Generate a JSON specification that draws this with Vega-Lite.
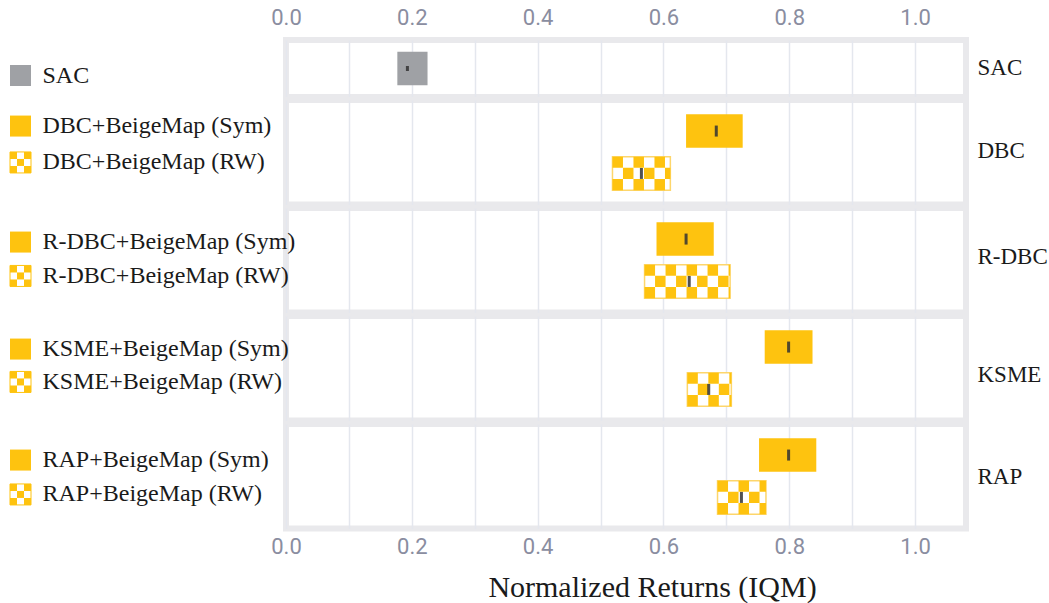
{
  "$schema": "https://vega.github.io/schema/vega-lite/v6.json",
  "background": "white",
  "padding": {"left": 6, "top": 3, "right": 0, "bottom": 0},
  "data": {"values": [
    {"family": "SAC", "method": "SAC", "variant": "base", "lo": 0.177, "hi": 0.225, "med": 0.193},
    {"family": "DBC", "method": "DBC+BeigeMap (Sym)", "variant": "Sym", "lo": 0.636, "hi": 0.726, "med": 0.684},
    {"family": "DBC", "method": "DBC+BeigeMap (RW)", "variant": "RW", "lo": 0.519, "hi": 0.611, "med": 0.565},
    {"family": "R-DBC", "method": "R-DBC+BeigeMap (Sym)", "variant": "Sym", "lo": 0.589, "hi": 0.680, "med": 0.636},
    {"family": "R-DBC", "method": "R-DBC+BeigeMap (RW)", "variant": "RW", "lo": 0.570, "hi": 0.706, "med": 0.641},
    {"family": "KSME", "method": "KSME+BeigeMap (Sym)", "variant": "Sym", "lo": 0.761, "hi": 0.837, "med": 0.799},
    {"family": "KSME", "method": "KSME+BeigeMap (RW)", "variant": "RW", "lo": 0.638, "hi": 0.708, "med": 0.672},
    {"family": "RAP", "method": "RAP+BeigeMap (Sym)", "variant": "Sym", "lo": 0.752, "hi": 0.843, "med": 0.799},
    {"family": "RAP", "method": "RAP+BeigeMap (RW)", "variant": "RW", "lo": 0.686, "hi": 0.763, "med": 0.724}
  ]},
  "spacing": -4,
  "vconcat": [
    {"spacing": 255, "bounds": "flush", "hconcat": [
      {"width": 21, "height": 57, "view": {"stroke": null, "fill": null},
       "transform": [{"filter": "datum.family === 'SAC'"}],
       "mark": {"type": "square", "size": 441, "opacity": 1, "yOffset": 7},
       "encoding": {
         "y": {"field": "method", "type": "nominal", "scale": {"domain": ["SAC"], "paddingInner": 0, "paddingOuter": 0.233}, "axis": null},
         "color": {"field": "variant", "type": "nominal", "scale": {"domain": ["base", "Sym", "RW"], "range": ["#9fa1a5", "#fec30f", "#ffffff"]}, "legend": null}
       }},
      {"width": 680, "height": 57,
       "transform": [{"filter": "datum.family === 'SAC'"}],
       "layer": [
        {"mark": {"type": "bar", "height": 33.5},
         "encoding": {
           "x": {"field": "lo", "type": "quantitative", "scale": {"domain": [0, 1.081], "nice": false, "zero": false},
                 "axis": {"orient": "top", "values": [0, 0.1, 0.2, 0.3, 0.4, 0.5, 0.6, 0.7, 0.8, 0.9, 1.0], "labelExpr": "round(datum.value*10) % 2 == 0 ? format(datum.value, '.1f') : ''", "labelFont": "Roboto", "labelFontSize": 22, "labelColor": "#8a8da0", "labelPadding": 11, "labelFlush": false, "ticks": false, "domain": false, "grid": true, "gridColor": "#e4e7ee", "gridWidth": 1.5, "title": null}},
           "x2": {"field": "hi"},
           "y": {"field": "method", "type": "nominal", "scale": {"domain": ["SAC"], "paddingInner": 0, "paddingOuter": 0.233},
                 "axis": {"orient": "left", "labelAlign": "left", "labelPadding": 244, "labelFont": "Liberation Serif", "labelFontSize": 24, "labelColor": "#1a1a1a", "labelLimit": 0, "labelOffset": 7, "ticks": false, "tickSize": 0, "domain": false, "grid": false, "title": null}},
           "fill": {"field": "variant", "type": "nominal", "scale": {"domain": ["base", "Sym", "RW"], "range": ["#9fa1a5", "#fec30f", "#ffffff"]}, "legend": null}
         }},
        {"mark": {"type": "tick", "thickness": 3, "size": 5, "color": "#333333", "opacity": 0.85},
         "encoding": {
           "x": {"field": "med", "type": "quantitative"},
           "y": {"field": "method", "type": "nominal", "scale": {"domain": ["SAC"], "paddingInner": 0, "paddingOuter": 0.233}, "axis": null}
         }},
        {"mark": {"type": "point", "opacity": 0},
         "encoding": {
           "y": {"field": "family", "type": "nominal", "axis": {"orient": "right", "labelAlign": "left", "labelPadding": 11, "labelOffset": -1, "labelFont": "Liberation Serif", "labelFontSize": 23, "labelColor": "#1a1a1a", "labelLimit": 0, "ticks": false, "tickSize": 0, "domain": false, "grid": false, "title": null}}
         }}
       ],
       "resolve": {"scale": {"y": "independent"}}
      }
    ]},
    {"spacing": 255, "bounds": "flush", "hconcat": [
      {"width": 21, "height": 104.5, "view": {"stroke": null, "fill": null},
       "transform": [{"filter": "datum.family === 'DBC'"}],
       "layer": [
         {"transform": [{"filter": "datum.variant === 'Sym'"}],
          "mark": {"type": "square", "size": 441, "opacity": 1, "color": "#fec30f", "yOffset": -5},
          "encoding": {"y": {"field": "method", "type": "nominal", "scale": {"domain": ["DBC+BeigeMap (Sym)", "DBC+BeigeMap (RW)"], "paddingInner": 0, "paddingOuter": 0.233}, "axis": null}}},
         {"transform": [{"filter": "datum.variant === 'RW'"}],
          "mark": {"type": "square", "size": 441, "opacity": 1, "filled": true, "color": "#ffffff", "stroke": "#fec30f", "strokeWidth": 1, "yOffset": -11},
          "encoding": {"y": {"field": "method", "type": "nominal"}}},
         {"transform": [{"filter": "datum.variant === 'RW'"}],
          "mark": {"type": "rule", "strokeWidth": 7, "strokeDash": [7, 7], "strokeCap": "butt", "color": "#fec30f", "yOffset": -18},
          "encoding": {"y": {"field": "method", "type": "nominal"}}},
         {"transform": [{"filter": "datum.variant === 'RW'"}],
          "mark": {"type": "rule", "strokeWidth": 7, "strokeDash": [7, 7], "strokeDashOffset": 7, "strokeCap": "butt", "color": "#fec30f", "yOffset": -11},
          "encoding": {"y": {"field": "method", "type": "nominal"}}},
         {"transform": [{"filter": "datum.variant === 'RW'"}],
          "mark": {"type": "rule", "strokeWidth": 7, "strokeDash": [7, 7], "strokeCap": "butt", "color": "#fec30f", "yOffset": -4},
          "encoding": {"y": {"field": "method", "type": "nominal"}}}
       ]},
      {"width": 680, "height": 104.5,
       "transform": [{"filter": "datum.family === 'DBC'"}],
       "layer": [
        {"mark": {"type": "bar", "height": 33.5, "stroke": "#fdd66c"},
         "encoding": {
           "x": {"field": "lo", "type": "quantitative", "scale": {"domain": [0, 1.081], "nice": false, "zero": false},
                 "axis": {"values": [0, 0.1, 0.2, 0.3, 0.4, 0.5, 0.6, 0.7, 0.8, 0.9, 1.0], "labels": false, "ticks": false, "domain": false, "grid": true, "gridColor": "#e4e7ee", "gridWidth": 1.5, "title": null}},
           "x2": {"field": "hi"},
           "y": {"field": "method", "type": "nominal", "scale": {"domain": ["DBC+BeigeMap (Sym)", "DBC+BeigeMap (RW)"], "paddingInner": 0, "paddingOuter": 0.233},
                 "axis": {"orient": "left", "labelAlign": "left", "labelPadding": 244, "labelFont": "Liberation Serif", "labelFontSize": 24, "labelColor": "#1a1a1a", "labelLimit": 0, "labelOffset": {"condition": {"test": "indexof(datum.value,'RW') >= 0", "value": -11}, "value": -5}, "ticks": false, "tickSize": 0, "domain": false, "grid": false, "title": null}},
           "fill": {"field": "variant", "type": "nominal", "scale": {"domain": ["base", "Sym", "RW"], "range": ["#9fa1a5", "#fec30f", "#ffffff"]}, "legend": null},
           "strokeWidth": {"condition": {"test": "datum.variant === 'RW'", "value": 1.5}, "value": 0}
         }},
        {"transform": [{"filter": "datum.variant === 'RW'"}],
         "mark": {"type": "rule", "strokeWidth": 11.17, "strokeDash": [10.5, 10.5], "strokeCap": "butt", "yOffset": -11.17, "color": "#fec30f"},
         "encoding": {"x": {"field": "lo", "type": "quantitative"}, "x2": {"field": "hi"}, "y": {"field": "method", "type": "nominal", "scale": {"domain": ["DBC+BeigeMap (Sym)", "DBC+BeigeMap (RW)"], "paddingInner": 0, "paddingOuter": 0.233}, "axis": null}}},
        {"transform": [{"filter": "datum.variant === 'RW'"}],
         "mark": {"type": "rule", "strokeWidth": 11.17, "strokeDash": [10.5, 10.5], "strokeDashOffset": 10.5, "strokeCap": "butt", "yOffset": 0, "color": "#fec30f"},
         "encoding": {"x": {"field": "lo", "type": "quantitative"}, "x2": {"field": "hi"}, "y": {"field": "method", "type": "nominal", "scale": {"domain": ["DBC+BeigeMap (Sym)", "DBC+BeigeMap (RW)"], "paddingInner": 0, "paddingOuter": 0.233}, "axis": null}}},
        {"transform": [{"filter": "datum.variant === 'RW'"}],
         "mark": {"type": "rule", "strokeWidth": 11.17, "strokeDash": [10.5, 10.5], "strokeCap": "butt", "yOffset": 11.17, "color": "#fec30f"},
         "encoding": {"x": {"field": "lo", "type": "quantitative"}, "x2": {"field": "hi"}, "y": {"field": "method", "type": "nominal", "scale": {"domain": ["DBC+BeigeMap (Sym)", "DBC+BeigeMap (RW)"], "paddingInner": 0, "paddingOuter": 0.233}, "axis": null}}},
        {"mark": {"type": "tick", "thickness": 3, "size": 11, "color": "#333333", "opacity": 0.85},
         "encoding": {
           "x": {"field": "med", "type": "quantitative"},
           "y": {"field": "method", "type": "nominal", "scale": {"domain": ["DBC+BeigeMap (Sym)", "DBC+BeigeMap (RW)"], "paddingInner": 0, "paddingOuter": 0.233}, "axis": null}
         }},
        {"mark": {"type": "point", "opacity": 0},
         "encoding": {
           "y": {"field": "family", "type": "nominal", "axis": {"orient": "right", "labelAlign": "left", "labelPadding": 11, "labelOffset": -2, "labelFont": "Liberation Serif", "labelFontSize": 23, "labelColor": "#1a1a1a", "labelLimit": 0, "ticks": false, "tickSize": 0, "domain": false, "grid": false, "title": null}}
         }}
       ],
       "resolve": {"scale": {"y": "independent"}}
      }
    ]},
    {"spacing": 255, "bounds": "flush", "hconcat": [
      {"width": 21, "height": 104.5, "view": {"stroke": null, "fill": null},
       "transform": [{"filter": "datum.family === 'R-DBC'"}],
       "layer": [
         {"transform": [{"filter": "datum.variant === 'Sym'"}],
          "mark": {"type": "square", "size": 441, "opacity": 1, "color": "#fec30f", "yOffset": 3},
          "encoding": {"y": {"field": "method", "type": "nominal", "scale": {"domain": ["R-DBC+BeigeMap (Sym)", "R-DBC+BeigeMap (RW)"], "paddingInner": 0, "paddingOuter": 0.233}, "axis": null}}},
         {"transform": [{"filter": "datum.variant === 'RW'"}],
          "mark": {"type": "square", "size": 441, "opacity": 1, "filled": true, "color": "#ffffff", "stroke": "#fec30f", "strokeWidth": 1, "yOffset": -5.5},
          "encoding": {"y": {"field": "method", "type": "nominal"}}},
         {"transform": [{"filter": "datum.variant === 'RW'"}],
          "mark": {"type": "rule", "strokeWidth": 7, "strokeDash": [7, 7], "strokeCap": "butt", "color": "#fec30f", "yOffset": -12.5},
          "encoding": {"y": {"field": "method", "type": "nominal"}}},
         {"transform": [{"filter": "datum.variant === 'RW'"}],
          "mark": {"type": "rule", "strokeWidth": 7, "strokeDash": [7, 7], "strokeDashOffset": 7, "strokeCap": "butt", "color": "#fec30f", "yOffset": -5.5},
          "encoding": {"y": {"field": "method", "type": "nominal"}}},
         {"transform": [{"filter": "datum.variant === 'RW'"}],
          "mark": {"type": "rule", "strokeWidth": 7, "strokeDash": [7, 7], "strokeCap": "butt", "color": "#fec30f", "yOffset": 1.5},
          "encoding": {"y": {"field": "method", "type": "nominal"}}}
       ]},
      {"width": 680, "height": 104.5,
       "transform": [{"filter": "datum.family === 'R-DBC'"}],
       "layer": [
        {"mark": {"type": "bar", "height": 33.5, "stroke": "#fdd66c"},
         "encoding": {
           "x": {"field": "lo", "type": "quantitative", "scale": {"domain": [0, 1.081], "nice": false, "zero": false},
                 "axis": {"values": [0, 0.1, 0.2, 0.3, 0.4, 0.5, 0.6, 0.7, 0.8, 0.9, 1.0], "labels": false, "ticks": false, "domain": false, "grid": true, "gridColor": "#e4e7ee", "gridWidth": 1.5, "title": null}},
           "x2": {"field": "hi"},
           "y": {"field": "method", "type": "nominal", "scale": {"domain": ["R-DBC+BeigeMap (Sym)", "R-DBC+BeigeMap (RW)"], "paddingInner": 0, "paddingOuter": 0.233},
                 "axis": {"orient": "left", "labelAlign": "left", "labelPadding": 244, "labelFont": "Liberation Serif", "labelFontSize": 24, "labelColor": "#1a1a1a", "labelLimit": 0, "labelOffset": {"condition": {"test": "indexof(datum.value,'RW') >= 0", "value": -5.5}, "value": 3}, "ticks": false, "tickSize": 0, "domain": false, "grid": false, "title": null}},
           "fill": {"field": "variant", "type": "nominal", "scale": {"domain": ["base", "Sym", "RW"], "range": ["#9fa1a5", "#fec30f", "#ffffff"]}, "legend": null},
           "strokeWidth": {"condition": {"test": "datum.variant === 'RW'", "value": 1.5}, "value": 0}
         }},
        {"transform": [{"filter": "datum.variant === 'RW'"}],
         "mark": {"type": "rule", "strokeWidth": 11.17, "strokeDash": [10.5, 10.5], "strokeCap": "butt", "yOffset": -11.17, "color": "#fec30f"},
         "encoding": {"x": {"field": "lo", "type": "quantitative"}, "x2": {"field": "hi"}, "y": {"field": "method", "type": "nominal", "scale": {"domain": ["R-DBC+BeigeMap (Sym)", "R-DBC+BeigeMap (RW)"], "paddingInner": 0, "paddingOuter": 0.233}, "axis": null}}},
        {"transform": [{"filter": "datum.variant === 'RW'"}],
         "mark": {"type": "rule", "strokeWidth": 11.17, "strokeDash": [10.5, 10.5], "strokeDashOffset": 10.5, "strokeCap": "butt", "yOffset": 0, "color": "#fec30f"},
         "encoding": {"x": {"field": "lo", "type": "quantitative"}, "x2": {"field": "hi"}, "y": {"field": "method", "type": "nominal", "scale": {"domain": ["R-DBC+BeigeMap (Sym)", "R-DBC+BeigeMap (RW)"], "paddingInner": 0, "paddingOuter": 0.233}, "axis": null}}},
        {"transform": [{"filter": "datum.variant === 'RW'"}],
         "mark": {"type": "rule", "strokeWidth": 11.17, "strokeDash": [10.5, 10.5], "strokeCap": "butt", "yOffset": 11.17, "color": "#fec30f"},
         "encoding": {"x": {"field": "lo", "type": "quantitative"}, "x2": {"field": "hi"}, "y": {"field": "method", "type": "nominal", "scale": {"domain": ["R-DBC+BeigeMap (Sym)", "R-DBC+BeigeMap (RW)"], "paddingInner": 0, "paddingOuter": 0.233}, "axis": null}}},
        {"mark": {"type": "tick", "thickness": 3, "size": 11, "color": "#333333", "opacity": 0.85},
         "encoding": {
           "x": {"field": "med", "type": "quantitative"},
           "y": {"field": "method", "type": "nominal", "scale": {"domain": ["R-DBC+BeigeMap (Sym)", "R-DBC+BeigeMap (RW)"], "paddingInner": 0, "paddingOuter": 0.233}, "axis": null}
         }},
        {"mark": {"type": "point", "opacity": 0},
         "encoding": {
           "y": {"field": "family", "type": "nominal", "axis": {"orient": "right", "labelAlign": "left", "labelPadding": 11, "labelOffset": -4, "labelFont": "Liberation Serif", "labelFontSize": 23, "labelColor": "#1a1a1a", "labelLimit": 0, "ticks": false, "tickSize": 0, "domain": false, "grid": false, "title": null}}
         }}
       ],
       "resolve": {"scale": {"y": "independent"}}
      }
    ]},
    {"spacing": 255, "bounds": "flush", "hconcat": [
      {"width": 21, "height": 104.5, "view": {"stroke": null, "fill": null},
       "transform": [{"filter": "datum.family === 'KSME'"}],
       "layer": [
         {"transform": [{"filter": "datum.variant === 'Sym'"}],
          "mark": {"type": "square", "size": 441, "opacity": 1, "color": "#fec30f", "yOffset": 2},
          "encoding": {"y": {"field": "method", "type": "nominal", "scale": {"domain": ["KSME+BeigeMap (Sym)", "KSME+BeigeMap (RW)"], "paddingInner": 0, "paddingOuter": 0.233}, "axis": null}}},
         {"transform": [{"filter": "datum.variant === 'RW'"}],
          "mark": {"type": "square", "size": 441, "opacity": 1, "filled": true, "color": "#ffffff", "stroke": "#fec30f", "strokeWidth": 1, "yOffset": -7.5},
          "encoding": {"y": {"field": "method", "type": "nominal"}}},
         {"transform": [{"filter": "datum.variant === 'RW'"}],
          "mark": {"type": "rule", "strokeWidth": 7, "strokeDash": [7, 7], "strokeCap": "butt", "color": "#fec30f", "yOffset": -14.5},
          "encoding": {"y": {"field": "method", "type": "nominal"}}},
         {"transform": [{"filter": "datum.variant === 'RW'"}],
          "mark": {"type": "rule", "strokeWidth": 7, "strokeDash": [7, 7], "strokeDashOffset": 7, "strokeCap": "butt", "color": "#fec30f", "yOffset": -7.5},
          "encoding": {"y": {"field": "method", "type": "nominal"}}},
         {"transform": [{"filter": "datum.variant === 'RW'"}],
          "mark": {"type": "rule", "strokeWidth": 7, "strokeDash": [7, 7], "strokeCap": "butt", "color": "#fec30f", "yOffset": -0.5},
          "encoding": {"y": {"field": "method", "type": "nominal"}}}
       ]},
      {"width": 680, "height": 104.5,
       "transform": [{"filter": "datum.family === 'KSME'"}],
       "layer": [
        {"mark": {"type": "bar", "height": 33.5, "stroke": "#fdd66c"},
         "encoding": {
           "x": {"field": "lo", "type": "quantitative", "scale": {"domain": [0, 1.081], "nice": false, "zero": false},
                 "axis": {"values": [0, 0.1, 0.2, 0.3, 0.4, 0.5, 0.6, 0.7, 0.8, 0.9, 1.0], "labels": false, "ticks": false, "domain": false, "grid": true, "gridColor": "#e4e7ee", "gridWidth": 1.5, "title": null}},
           "x2": {"field": "hi"},
           "y": {"field": "method", "type": "nominal", "scale": {"domain": ["KSME+BeigeMap (Sym)", "KSME+BeigeMap (RW)"], "paddingInner": 0, "paddingOuter": 0.233},
                 "axis": {"orient": "left", "labelAlign": "left", "labelPadding": 244, "labelFont": "Liberation Serif", "labelFontSize": 24, "labelColor": "#1a1a1a", "labelLimit": 0, "labelOffset": {"condition": {"test": "indexof(datum.value,'RW') >= 0", "value": -7.5}, "value": 2}, "ticks": false, "tickSize": 0, "domain": false, "grid": false, "title": null}},
           "fill": {"field": "variant", "type": "nominal", "scale": {"domain": ["base", "Sym", "RW"], "range": ["#9fa1a5", "#fec30f", "#ffffff"]}, "legend": null},
           "strokeWidth": {"condition": {"test": "datum.variant === 'RW'", "value": 1.5}, "value": 0}
         }},
        {"transform": [{"filter": "datum.variant === 'RW'"}],
         "mark": {"type": "rule", "strokeWidth": 11.17, "strokeDash": [10.5, 10.5], "strokeCap": "butt", "yOffset": -11.17, "color": "#fec30f"},
         "encoding": {"x": {"field": "lo", "type": "quantitative"}, "x2": {"field": "hi"}, "y": {"field": "method", "type": "nominal", "scale": {"domain": ["KSME+BeigeMap (Sym)", "KSME+BeigeMap (RW)"], "paddingInner": 0, "paddingOuter": 0.233}, "axis": null}}},
        {"transform": [{"filter": "datum.variant === 'RW'"}],
         "mark": {"type": "rule", "strokeWidth": 11.17, "strokeDash": [10.5, 10.5], "strokeDashOffset": 10.5, "strokeCap": "butt", "yOffset": 0, "color": "#fec30f"},
         "encoding": {"x": {"field": "lo", "type": "quantitative"}, "x2": {"field": "hi"}, "y": {"field": "method", "type": "nominal", "scale": {"domain": ["KSME+BeigeMap (Sym)", "KSME+BeigeMap (RW)"], "paddingInner": 0, "paddingOuter": 0.233}, "axis": null}}},
        {"transform": [{"filter": "datum.variant === 'RW'"}],
         "mark": {"type": "rule", "strokeWidth": 11.17, "strokeDash": [10.5, 10.5], "strokeCap": "butt", "yOffset": 11.17, "color": "#fec30f"},
         "encoding": {"x": {"field": "lo", "type": "quantitative"}, "x2": {"field": "hi"}, "y": {"field": "method", "type": "nominal", "scale": {"domain": ["KSME+BeigeMap (Sym)", "KSME+BeigeMap (RW)"], "paddingInner": 0, "paddingOuter": 0.233}, "axis": null}}},
        {"mark": {"type": "tick", "thickness": 3, "size": 11, "color": "#333333", "opacity": 0.85},
         "encoding": {
           "x": {"field": "med", "type": "quantitative"},
           "y": {"field": "method", "type": "nominal", "scale": {"domain": ["KSME+BeigeMap (Sym)", "KSME+BeigeMap (RW)"], "paddingInner": 0, "paddingOuter": 0.233}, "axis": null}
         }},
        {"mark": {"type": "point", "opacity": 0},
         "encoding": {
           "y": {"field": "family", "type": "nominal", "axis": {"orient": "right", "labelAlign": "left", "labelPadding": 11, "labelOffset": 6, "labelFont": "Liberation Serif", "labelFontSize": 23, "labelColor": "#1a1a1a", "labelLimit": 0, "ticks": false, "tickSize": 0, "domain": false, "grid": false, "title": null}}
         }}
       ],
       "resolve": {"scale": {"y": "independent"}}
      }
    ]},
    {"spacing": 255, "bounds": "flush", "hconcat": [
      {"width": 21, "height": 104.5, "view": {"stroke": null, "fill": null},
       "transform": [{"filter": "datum.family === 'RAP'"}],
       "layer": [
         {"transform": [{"filter": "datum.variant === 'Sym'"}],
          "mark": {"type": "square", "size": 441, "opacity": 1, "color": "#fec30f", "yOffset": 5},
          "encoding": {"y": {"field": "method", "type": "nominal", "scale": {"domain": ["RAP+BeigeMap (Sym)", "RAP+BeigeMap (RW)"], "paddingInner": 0, "paddingOuter": 0.233}, "axis": null}}},
         {"transform": [{"filter": "datum.variant === 'RW'"}],
          "mark": {"type": "square", "size": 441, "opacity": 1, "filled": true, "color": "#ffffff", "stroke": "#fec30f", "strokeWidth": 1, "yOffset": -3},
          "encoding": {"y": {"field": "method", "type": "nominal"}}},
         {"transform": [{"filter": "datum.variant === 'RW'"}],
          "mark": {"type": "rule", "strokeWidth": 7, "strokeDash": [7, 7], "strokeCap": "butt", "color": "#fec30f", "yOffset": -10},
          "encoding": {"y": {"field": "method", "type": "nominal"}}},
         {"transform": [{"filter": "datum.variant === 'RW'"}],
          "mark": {"type": "rule", "strokeWidth": 7, "strokeDash": [7, 7], "strokeDashOffset": 7, "strokeCap": "butt", "color": "#fec30f", "yOffset": -3},
          "encoding": {"y": {"field": "method", "type": "nominal"}}},
         {"transform": [{"filter": "datum.variant === 'RW'"}],
          "mark": {"type": "rule", "strokeWidth": 7, "strokeDash": [7, 7], "strokeCap": "butt", "color": "#fec30f", "yOffset": 4},
          "encoding": {"y": {"field": "method", "type": "nominal"}}}
       ]},
      {"width": 680, "height": 104.5,
       "transform": [{"filter": "datum.family === 'RAP'"}],
       "layer": [
        {"mark": {"type": "bar", "height": 33.5, "stroke": "#fdd66c"},
         "encoding": {
           "x": {"field": "lo", "type": "quantitative", "scale": {"domain": [0, 1.081], "nice": false, "zero": false},
                 "axis": {"orient": "bottom", "values": [0, 0.1, 0.2, 0.3, 0.4, 0.5, 0.6, 0.7, 0.8, 0.9, 1.0], "labelExpr": "round(datum.value*10) % 2 == 0 ? format(datum.value, '.1f') : ''", "labelFont": "Roboto", "labelFontSize": 22, "labelColor": "#8a8da0", "labelPadding": 8, "labelFlush": false, "ticks": false, "domain": false, "grid": true, "gridColor": "#e4e7ee", "gridWidth": 1.5,
                          "title": "Normalized Returns (IQM)", "titleFont": "Liberation Serif", "titleFontSize": 30, "titleFontWeight": "normal", "titleColor": "#1a1a1a", "titlePadding": 15, "titleX": 366}},
           "x2": {"field": "hi"},
           "y": {"field": "method", "type": "nominal", "scale": {"domain": ["RAP+BeigeMap (Sym)", "RAP+BeigeMap (RW)"], "paddingInner": 0, "paddingOuter": 0.233},
                 "axis": {"orient": "left", "labelAlign": "left", "labelPadding": 244, "labelFont": "Liberation Serif", "labelFontSize": 24, "labelColor": "#1a1a1a", "labelLimit": 0, "labelOffset": {"condition": {"test": "indexof(datum.value,'RW') >= 0", "value": -3}, "value": 5}, "ticks": false, "tickSize": 0, "domain": false, "grid": false, "title": null}},
           "fill": {"field": "variant", "type": "nominal", "scale": {"domain": ["base", "Sym", "RW"], "range": ["#9fa1a5", "#fec30f", "#ffffff"]}, "legend": null},
           "strokeWidth": {"condition": {"test": "datum.variant === 'RW'", "value": 1.5}, "value": 0}
         }},
        {"transform": [{"filter": "datum.variant === 'RW'"}],
         "mark": {"type": "rule", "strokeWidth": 11.17, "strokeDash": [10.5, 10.5], "strokeCap": "butt", "yOffset": -11.17, "color": "#fec30f"},
         "encoding": {"x": {"field": "lo", "type": "quantitative"}, "x2": {"field": "hi"}, "y": {"field": "method", "type": "nominal", "scale": {"domain": ["RAP+BeigeMap (Sym)", "RAP+BeigeMap (RW)"], "paddingInner": 0, "paddingOuter": 0.233}, "axis": null}}},
        {"transform": [{"filter": "datum.variant === 'RW'"}],
         "mark": {"type": "rule", "strokeWidth": 11.17, "strokeDash": [10.5, 10.5], "strokeDashOffset": 10.5, "strokeCap": "butt", "yOffset": 0, "color": "#fec30f"},
         "encoding": {"x": {"field": "lo", "type": "quantitative"}, "x2": {"field": "hi"}, "y": {"field": "method", "type": "nominal", "scale": {"domain": ["RAP+BeigeMap (Sym)", "RAP+BeigeMap (RW)"], "paddingInner": 0, "paddingOuter": 0.233}, "axis": null}}},
        {"transform": [{"filter": "datum.variant === 'RW'"}],
         "mark": {"type": "rule", "strokeWidth": 11.17, "strokeDash": [10.5, 10.5], "strokeCap": "butt", "yOffset": 11.17, "color": "#fec30f"},
         "encoding": {"x": {"field": "lo", "type": "quantitative"}, "x2": {"field": "hi"}, "y": {"field": "method", "type": "nominal", "scale": {"domain": ["RAP+BeigeMap (Sym)", "RAP+BeigeMap (RW)"], "paddingInner": 0, "paddingOuter": 0.233}, "axis": null}}},
        {"mark": {"type": "tick", "thickness": 3, "size": 11, "color": "#333333", "opacity": 0.85},
         "encoding": {
           "x": {"field": "med", "type": "quantitative"},
           "y": {"field": "method", "type": "nominal", "scale": {"domain": ["RAP+BeigeMap (Sym)", "RAP+BeigeMap (RW)"], "paddingInner": 0, "paddingOuter": 0.233}, "axis": null}
         }},
        {"mark": {"type": "point", "opacity": 0},
         "encoding": {
           "y": {"field": "family", "type": "nominal", "axis": {"orient": "right", "labelAlign": "left", "labelPadding": 11, "labelOffset": 0, "labelFont": "Liberation Serif", "labelFontSize": 23, "labelColor": "#1a1a1a", "labelLimit": 0, "ticks": false, "tickSize": 0, "domain": false, "grid": false, "title": null}}
         }}
       ],
       "resolve": {"scale": {"y": "independent"}}
      }
    ]}
  ],
  "config": {
    "view": {"stroke": "#e9e9ec", "strokeWidth": 6, "fill": "white"}
  }
}
